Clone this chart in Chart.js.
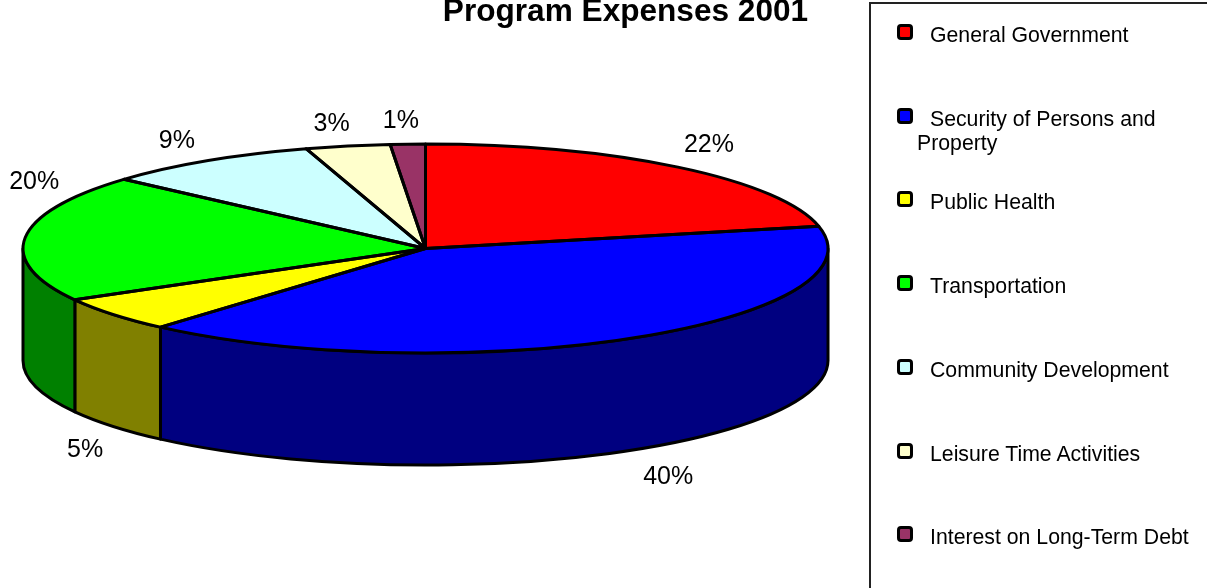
<!DOCTYPE html>
<html>
<head>
<meta charset="utf-8">
<title>Program Expenses 2001</title>
<script src="https://cdn.jsdelivr.net/npm/chart.js@4"></script>
<style>
    html, body { margin: 0; padding: 0; width: 1207px; height: 588px; overflow: hidden; background: #fff; }
    #wrap { position: relative; width: 1207px; height: 588px; overflow: hidden; font-family: "Liberation Sans", Arial, sans-serif; }
    #expensesChart { position: absolute; left: 0; top: 0; }
    #legendBox { position: absolute; left: 869px; top: 2px; width: 400px; height: 700px; border: 2px solid #222; box-sizing: border-box; }
    .legend-item { position: absolute; left: 917px; width: 280px; font-size: 21.25px; line-height: 24px; color: #000; text-indent: 13px; }
    .legend-swatch { position: absolute; left: 897px; width: 16px; height: 16px; box-sizing: border-box; border: 3px solid #000; border-radius: 4px; }
</style>
</head>
<body>
<div id="wrap">
    <canvas id="expensesChart" width="1207" height="588"></canvas>
    <div id="legendBox"></div>
</div>
<script>
const chartTitle = 'Program Expenses 2001';
const categories = [
    'General Government',
    'Security of Persons and Property',
    'Public Health',
    'Transportation',
    'Community Development',
    'Leisure Time Activities',
    'Interest on Long-Term Debt'
];
const shares = [21.6, 39.9, 5.4, 19.7, 8.7, 3.4, 1.4];
const topColors = ['#ff0000', '#0000ff', '#ffff00', '#00ff00', '#ccffff', '#ffffcc', '#993366'];
const sideColors = ['#800000', '#000080', '#808000', '#008000', '#668080', '#808066', '#4d1a33'];

// Where the flattened pie sits on the page
const CENTER_X = 425.5;
const CENTER_Y = 248.5;
const RADIUS_X = 402.5;
const RADIUS_Y = 104.5;
const DEPTH = 112;
const EDGE_WIDTH = 3;

// Percent labels are hand placed in the original, nudged here from the rim of each slice
const labelNudgeX = [31, 38, -28, 9, -30, -16, -7];
const labelNudgeY = [-22, 27, 24, -55, -20, -22, -23];

// Outline of the top of a slice, in page coordinates
function traceTop(ctx, arc) {
    ctx.beginPath();
    ctx.moveTo(CENTER_X, CENTER_Y);
    ctx.ellipse(CENTER_X, CENTER_Y, RADIUS_X, RADIUS_Y, 0, arc.startAngle, arc.endAngle);
    ctx.closePath();
}

// Function to draw the front wall of a slice, only the part facing the viewer
function drawWall(ctx, arc, color) {
    const from = Math.max(arc.startAngle, 0);
    const to = Math.min(arc.endAngle, Math.PI);
    if (to <= from) {
        return;
    }
    ctx.beginPath();
    ctx.ellipse(CENTER_X, CENTER_Y, RADIUS_X, RADIUS_Y, 0, from, to);
    ctx.ellipse(CENTER_X, CENTER_Y + DEPTH, RADIUS_X, RADIUS_Y, 0, to, from, true);
    ctx.closePath();
    ctx.fillStyle = color;
    ctx.fill();
    ctx.stroke();
}

const pie3dPlugin = {
    id: 'pie3d',
    beforeDatasetsDraw(chart) {
        const ctx = chart.ctx;
        ctx.save();
        ctx.lineWidth = EDGE_WIDTH;
        ctx.lineJoin = 'round';
        ctx.strokeStyle = '#000';
        chart.getDatasetMeta(0).data.forEach((arc, i) => drawWall(ctx, arc, sideColors[i]));
        ctx.restore();
    },
    // Squash the round pie from the library into the ellipse
    beforeDatasetDraw(chart, args) {
        const ctx = chart.ctx;
        const first = args.meta.data[0];
        ctx.save();
        ctx.translate(CENTER_X, CENTER_Y);
        ctx.scale(1, RADIUS_Y / RADIUS_X);
        ctx.translate(-first.x, -first.y);
    },
    afterDatasetDraw(chart) {
        chart.ctx.restore();
    },
    afterDatasetsDraw(chart) {
        const ctx = chart.ctx;
        const arcs = chart.getDatasetMeta(0).data;
        ctx.save();
        ctx.lineWidth = EDGE_WIDTH;
        ctx.lineJoin = 'round';
        ctx.strokeStyle = '#000';
        arcs.forEach(arc => {
            traceTop(ctx, arc);
            ctx.stroke();
        });

        ctx.fillStyle = '#000';
        ctx.textAlign = 'center';
        ctx.textBaseline = 'middle';
        ctx.font = '25px "Liberation Sans", Arial, sans-serif';
        arcs.forEach((arc, i) => {
            const mid = (arc.startAngle + arc.endAngle) / 2;
            const front = Math.sin(mid) > 0 ? DEPTH : 0;
            const x = CENTER_X + RADIUS_X * Math.cos(mid) + labelNudgeX[i];
            const y = CENTER_Y + RADIUS_Y * Math.sin(mid) + front + labelNudgeY[i];
            ctx.fillText(Math.round(shares[i]) + '%', x, y);
        });

        ctx.font = 'bold 31.6px "Liberation Sans", Arial, sans-serif';
        ctx.textBaseline = 'alphabetic';
        ctx.fillText(chartTitle, 625.5, 21);
        ctx.restore();
    }
};

// Function to build the legend box next to the chart
function buildLegend() {
    const wrap = document.getElementById('wrap');
    categories.forEach((name, i) => {
        const top = 23 + i * 83.7;
        const swatch = document.createElement('div');
        swatch.className = 'legend-swatch';
        swatch.style.top = (top + 1) + 'px';
        swatch.style.background = topColors[i];
        wrap.appendChild(swatch);

        const item = document.createElement('div');
        item.className = 'legend-item';
        item.style.top = top + 'px';
        item.textContent = name;
        wrap.appendChild(item);
    });
}

new Chart(document.getElementById('expensesChart').getContext('2d'), {
    type: 'pie',
    data: {
        labels: categories,
        datasets: [{
            data: shares,
            backgroundColor: topColors,
            borderWidth: 0,
            radius: RADIUS_X,
            clip: false
        }]
    },
    options: {
        responsive: false,
        animation: false,
        plugins: {
            legend: { display: false },
            tooltip: { enabled: false }
        }
    },
    plugins: [pie3dPlugin]
});

buildLegend();
</script>
</body>
</html>
